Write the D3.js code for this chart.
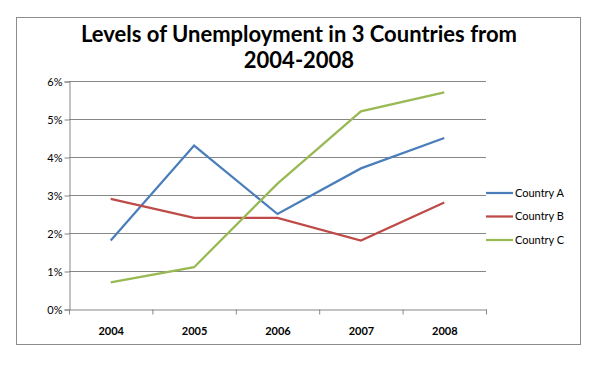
<!DOCTYPE html>
<html>
<head>
<meta charset="utf-8">
<script src="https://cdn.jsdelivr.net/npm/d3@7"></script>
<style>
  body { margin: 0; background: #fff; }
  text { font-family: Lato, "Open Sans", sans-serif; }
</style>
</head>
<body>
<svg width="600" height="365"></svg>
<script>
var years = ["2004", "2005", "2006", "2007", "2008"];
var countryA = [1.8, 4.3, 2.5, 3.7, 4.5];
var countryB = [2.9, 2.4, 2.4, 1.8, 2.8];
var countryC = [0.7, 1.1, 3.3, 5.2, 5.7];
var seriesNames = ["Country A", "Country B", "Country C"];
var colors = ["#4a7ebb", "#be4b48", "#98b954"];
var yTicks = [0, 1, 2, 3, 4, 5, 6];

var series = [countryA, countryB, countryC];
var svg = d3.select('svg');

// outer frame
svg.append("rect")
    .attr("x", 16.5).attr("y", 17.5)
    .attr("width", 564).attr("height", 327)
    .attr("fill", "#fff").attr("stroke", "#8c8c8c");

// title
var title = svg.append("text")
    .attr("font-size", "22px")
    .attr("font-weight", "bold")
    .attr("text-anchor", "middle");
title.append("tspan").attr("x", 299).attr("y", 42).text("Levels of Unemployment in 3 Countries from");
title.append("tspan").attr("x", 299).attr("y", 68).text("2004-2008");

var x = d3.scaleBand().domain(years).range([69, 486]);
var y = d3.scaleLinear().domain([0, 6]).range([309, 81]);

// gridlines
svg.append("g").selectAll("line")
    .data(yTicks.slice(1))
    .enter().append("line")
    .attr("x1", 69).attr("x2", 486)
    .attr("y1", function (d) { return Math.round(y(d)) + 0.5; })
    .attr("y2", function (d) { return Math.round(y(d)) + 0.5; })
    .attr("stroke", "#868686");

// y axis
var yAxis = d3.axisLeft(y).tickValues(yTicks).tickSize(5)
    .tickFormat(function (d) { return d + "%"; });
var yg = svg.append("g").attr("transform", "translate(69.5,0.5)").call(yAxis);
yg.select(".domain").attr("stroke", "#868686");
yg.selectAll(".tick line").attr("stroke", "#868686");
yg.selectAll(".tick text").attr("font-size", "11px").attr("fill", "#000")
    .attr("font-family", "Lato, sans-serif").attr("x", -7);

// x axis
var xAxis = d3.axisBottom(x).tickSize(0).tickSizeOuter(0);
var xg = svg.append("g").attr("transform", "translate(0.5," + (Math.round(y(0)) + 0.5) + ")").call(xAxis);
xg.select(".domain").attr("stroke", "#868686");
xg.selectAll(".tick text").attr("font-size", "11px").attr("font-weight", "bold").attr("fill", "#000")
    .attr("font-family", "Lato, sans-serif").attr("dy", "2em");
// category boundary ticks
svg.append("g").selectAll("line")
    .data(years.concat(["end"]))
    .enter().append("line")
    .attr("x1", function (d, i) { return 69.5 + i * x.step(); })
    .attr("x2", function (d, i) { return 69.5 + i * x.step(); })
    .attr("y1", Math.round(y(0)) + 0.5)
    .attr("y2", Math.round(y(0)) + 5.5)
    .attr("stroke", "#868686");

// lines
var line = d3.line()
    .x(function (d, i) { return x(years[i]) + x.bandwidth() / 2; })
    .y(function (d) { return y(d); });

svg.append("g").selectAll("path")
    .data(series)
    .enter().append("path")
    .attr("d", line)
    .attr("fill", "none")
    .attr("stroke", function (d, i) { return colors[i]; })
    .attr("stroke-width", 2.25);

// legend
var legend = svg.append("g").selectAll("g")
    .data(seriesNames)
    .enter().append("g")
    .attr("transform", function (d, i) { return "translate(486," + (193 + i * 23.5) + ")"; });
legend.append("line")
    .attr("x1", 0).attr("x2", 27)
    .attr("stroke", function (d, i) { return colors[i]; })
    .attr("stroke-width", 2.25);
legend.append("text")
    .attr("x", 29).attr("dy", "0.35em")
    .attr("font-size", "11px")
    .text(function (d) { return d; });
</script>
</body>
</html>
